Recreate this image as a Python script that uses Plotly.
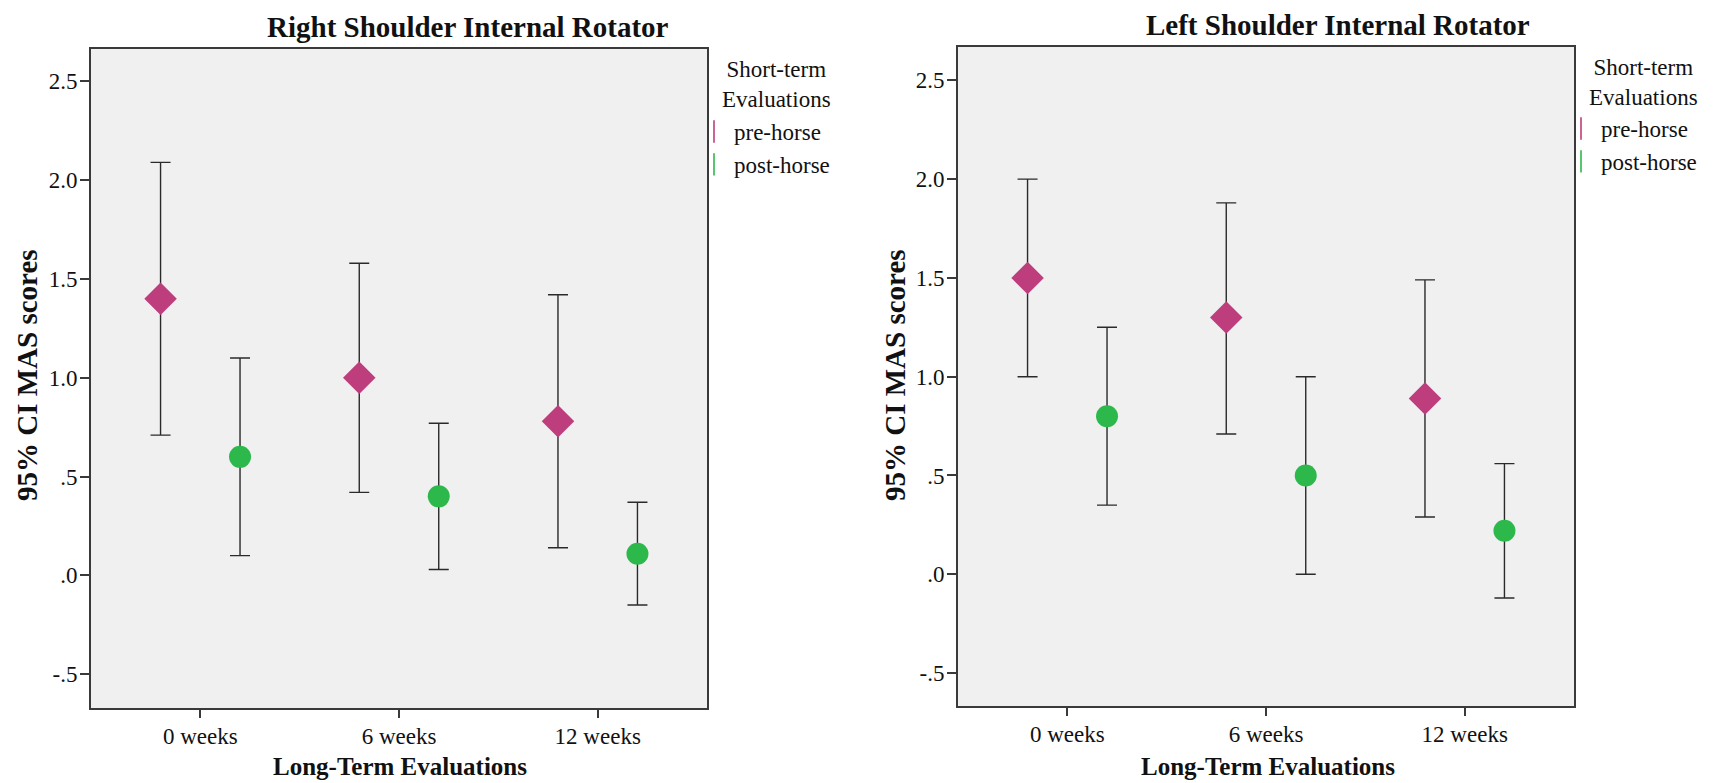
import plotly.graph_objects as go

W, H = 1716, 783

categories = ["0 weeks", "6 weeks", "12 weeks"]
groups = ["pre-horse", "post-horse"]

# Right shoulder internal rotator (left panel)
right_pre_mean = [1.40, 1.00, 0.78]
right_pre_upper = [2.09, 1.58, 1.42]
right_pre_lower = [0.71, 0.42, 0.14]
right_post_mean = [0.60, 0.40, 0.11]
right_post_upper = [1.10, 0.77, 0.37]
right_post_lower = [0.10, 0.03, -0.15]

# Left shoulder internal rotator (right panel)
left_pre_mean = [1.50, 1.30, 0.89]
left_pre_upper = [2.00, 1.88, 1.49]
left_pre_lower = [1.00, 0.71, 0.29]
left_post_mean = [0.80, 0.50, 0.22]
left_post_upper = [1.25, 1.00, 0.56]
left_post_lower = [0.35, 0.00, -0.12]

ytick_vals = [-0.5, 0.0, 0.5, 1.0, 1.5, 2.0, 2.5]
ytick_text = ["-.5", ".0", ".5", "1.0", "1.5", "2.0", "2.5"]

PINK = "#BE3D7D"
GREEN = "#2DB84B"
FONT = "Liberation Serif"
offset = 0.2

fig = go.Figure()


def add_series(mean, upper, lower, sign, color, symbol, size, xa, ya):
    xs = [i + sign * offset for i in range(len(categories))]
    fig.add_trace(go.Scatter(
        x=xs, y=mean, mode="markers",
        marker=dict(color=color, symbol=symbol, size=size, line=dict(width=0)),
        error_y=dict(type="data", symmetric=False,
                     array=[u - m for u, m in zip(upper, mean)],
                     arrayminus=[m - l for m, l in zip(mean, lower)],
                     color="#2a2a2a", thickness=1.4, width=10),
        xaxis=xa, yaxis=ya, showlegend=False, hoverinfo="skip"))


add_series(right_pre_mean, right_pre_upper, right_pre_lower, -1, PINK, "diamond", 25, "x", "y")
add_series(right_post_mean, right_post_upper, right_post_lower, 1, GREEN, "circle", 22, "x", "y")
add_series(left_pre_mean, left_pre_upper, left_pre_lower, -1, PINK, "diamond", 25, "x2", "y2")
add_series(left_post_mean, left_post_upper, left_post_lower, 1, GREEN, "circle", 22, "x2", "y2")

# legend entries (I-beam-like vertical line symbols)
for lg, xa, ya in [("legend", "x", "y"), ("legend2", "x2", "y2")]:
    for name, color in zip(groups, [PINK, GREEN]):
        fig.add_trace(go.Scatter(
            x=[None], y=[None], mode="markers", name=name,
            marker=dict(symbol="line-ns", size=17, color=color,
                        line=dict(color=color, width=1.6)),
            xaxis=xa, yaxis=ya, legend=lg, showlegend=True))

common_x = dict(range=[-0.55, 2.55], tickvals=[0, 1, 2], ticktext=categories,
                showgrid=False, zeroline=False, showline=True, mirror=True,
                linecolor="#3a3a3a", linewidth=2, ticks="outside", ticklen=8,
                tickwidth=1.5, tickcolor="#3a3a3a", ticklabelstandoff=-2,
                tickfont=dict(family=FONT, size=23, color="#111"))
common_y = dict(tickvals=ytick_vals, ticktext=ytick_text,
                showgrid=False, zeroline=False, showline=True, mirror=True,
                linecolor="#3a3a3a", linewidth=2, ticks="outside", ticklen=9,
                tickwidth=1.5, tickcolor="#3a3a3a", ticklabelstandoff=-2,
                tickfont=dict(family=FONT, size=23, color="#111"))

legend_common = dict(
    bgcolor="rgba(0,0,0,0)", borderwidth=0,
    font=dict(family=FONT, size=23, color="#111"),
    xanchor="left", yanchor="top", tracegroupgap=0, itemwidth=30)

fig.update_layout(
    width=W, height=H,
    margin=dict(l=0, r=0, t=0, b=0),
    font=dict(family=FONT, color="#111"),
    paper_bgcolor="white", plot_bgcolor="#F0F0F0",
    xaxis=dict(domain=[91 / W, 707 / W], anchor="y", **common_x),
    yaxis=dict(domain=[1 - 708 / H, 1 - 49 / H], range=[-0.671, 2.664], anchor="x", **common_y),
    xaxis2=dict(domain=[958 / W, 1574 / W], anchor="y2", **common_x),
    yaxis2=dict(domain=[1 - 706 / H, 1 - 47 / H], range=[-0.667, 2.669], anchor="x2", **common_y),
    legend=dict(x=694 / W, y=1 - 110 / H, **legend_common),
    legend2=dict(x=1561 / W, y=1 - 107 / H, **legend_common),
    showlegend=True,
)

annots = [
    dict(text="<b>Right Shoulder Internal Rotator</b>", x=468 / W, y=1 - 27 / H, size=29),
    dict(text="<b>Left Shoulder Internal Rotator</b>", x=1338 / W, y=1 - 25 / H, size=29),
]
for a in annots:
    fig.add_annotation(text=a["text"], x=a["x"], y=a["y"], xref="paper", yref="paper",
                       xanchor="center", yanchor="middle", showarrow=False,
                       font=dict(family=FONT, size=a["size"], color="#111"))
for xc in [400, 1268]:
    fig.add_annotation(text="<b>Long-Term Evaluations</b>", x=xc / W, y=1 - 766 / H,
                       xref="paper", yref="paper", xanchor="center", yanchor="middle",
                       showarrow=False, borderpad=0,
                       font=dict(family=FONT, size=25, color="#111"))
for xc in [27, 895]:
    fig.add_annotation(text="<b>95% CI MAS scores</b>", x=xc / W, y=1 - 375 / H,
                       xref="paper", yref="paper", xanchor="center", yanchor="middle",
                       showarrow=False, textangle=-90,
                       font=dict(family=FONT, size=29, color="#111"))
# legend titles
for xc, yc in [(776, 84), (1643, 83)]:
    fig.add_annotation(text="Short-term<br>Evaluations", x=xc / W, y=1 - yc / H,
                       xref="paper", yref="paper", xanchor="center", yanchor="middle",
                       align="center", showarrow=False,
                       font=dict(family=FONT, size=23, color="#111"))

fig.write_html("out.html", config={"displayModeBar": False},
               post_script="document.body.style.margin='0';document.body.style.overflow='hidden';")
